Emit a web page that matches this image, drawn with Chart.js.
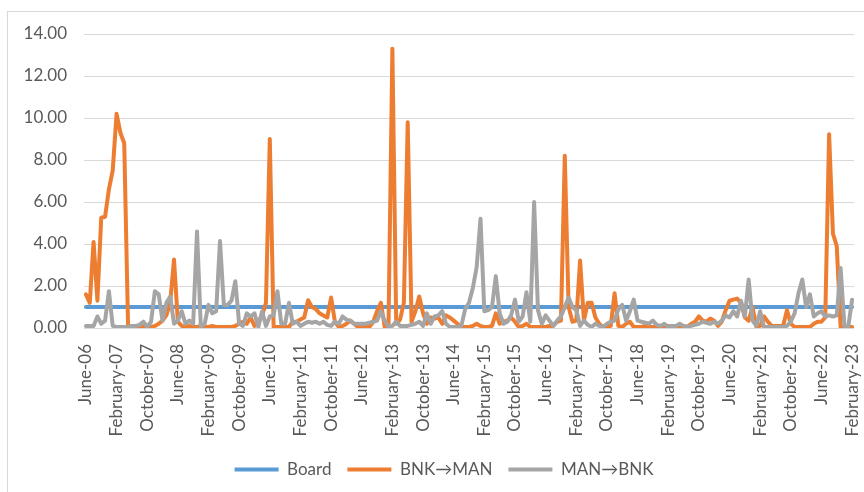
<!DOCTYPE html>
<html>
<head>
<meta charset="utf-8">
<script src="https://cdn.jsdelivr.net/npm/chart.js@4.4.0/dist/chart.umd.min.js"></script>
<style>
  html, body { margin: 0; padding: 0; background: #fff; }
  #wrap { position: relative; width: 864px; height: 492px; overflow: hidden; }
  #frame { position: absolute; left: 7px; top: 11px; width: 900px; height: 520px;
           border-left: 1px solid #d9d9d9; border-top: 1px solid #d9d9d9; }
  canvas { position: absolute; left: 0; top: 0; }
</style>
</head>
<body>
<div id="wrap">
  <div id="frame"></div>
  <canvas id="myChart" width="864" height="492"></canvas>
</div>
<script>
// monthly, June-06 .. February-23
var monthNames = ["January", "February", "March", "April", "May", "June", "July",
  "August", "September", "October", "November", "December"];
var firstYear = 2006, firstMonth = 5, monthCount = 201;
var categories = [];
for (var k = 0; k < monthCount; k++) {
  var m = (firstMonth + k) % 12;
  var y = firstYear + Math.floor((firstMonth + k) / 12);
  categories.push(monthNames[m] + "-" + String(y % 100).padStart(2, "0"));
}

var boardLevel = 1.0;

var bnkToMan = [
  1.6, 1.2, 4.1, 1.3, 5.25, 5.3, 6.6, 7.5, 10.2, 9.3,
  8.8, 0.1, 0.05, 0.05, 0.1, 0.05, 0.1, 0.05, 0.1, 0.2,
  0.35, 0.6, 1.2, 3.26, 0.3, 0.1, 0.05, 0.1, 0.05, 0.05,
  0.1, 0.05, 0.05, 0.1, 0.05, 0.05, 0.05, 0.05, 0.05, 0.1,
  0.2, 0.3, 0.2, 0.5, 0.1, 0.3, 0.6, 1.2, 9.0, 0.05,
  0.05, 0.05, 0.05, 0.05, 0.3, 0.3, 0.4, 0.5, 1.32, 1.0,
  0.9, 0.7, 0.6, 0.5, 1.45, 0.3, 0.05, 0.1, 0.2, 0.35,
  0.2, 0.05, 0.05, 0.05, 0.05, 0.3, 0.8, 1.2, 0.05, 0.2,
  13.3, 0.2, 0.4, 1.2, 9.8, 0.3, 0.8, 1.5, 0.7, 0.2,
  0.5, 0.45, 0.5, 0.2, 0.6, 0.5, 0.35, 0.2, 0.05, 0.05,
  0.05, 0.1, 0.2, 0.1, 0.05, 0.05, 0.1, 0.7, 0.2, 0.3,
  0.35, 0.5, 0.3, 0.05, 0.1, 0.2, 0.05, 0.05, 0.05, 0.05,
  0.05, 0.1, 0.1, 0.3, 0.35, 8.2, 1.0, 0.3, 0.35, 3.22,
  0.35, 1.2, 1.2, 0.5, 0.2, 0.05, 0.05, 0.1, 1.65, 0.1,
  0.05, 0.2, 0.3, 0.05, 0.05, 0.05, 0.1, 0.05, 0.05, 0.1,
  0.05, 0.05, 0.1, 0.05, 0.05, 0.05, 0.1, 0.05, 0.2, 0.3,
  0.55, 0.35, 0.3, 0.45, 0.35, 0.1, 0.3, 0.85, 1.3, 1.35,
  1.4, 1.2, 0.5, 0.35, 1.0, 0.05, 0.1, 0.55, 0.3, 0.1,
  0.1, 0.1, 0.1, 0.85, 0.2, 0.05, 0.05, 0.05, 0.05, 0.05,
  0.2, 0.3, 0.3, 0.5, 9.23, 4.5, 3.9, 0.05, 0.05, 0.05,
  0.05
];

var manToBnk = [
  0.1, 0.1, 0.1, 0.55, 0.2, 0.35, 1.75, 0.1, 0.05, 0.05,
  0.05, 0.05, 0.1, 0.1, 0.15, 0.3, 0.05, 0.3, 1.75, 1.6,
  0.35, 1.2, 1.5, 0.2, 0.35, 0.8, 0.2, 0.35, 0.2, 4.6,
  0.05, 0.2, 1.1, 0.7, 0.8, 4.14, 1.1, 1.1, 1.3, 2.23,
  0.2, 0.1, 0.7, 0.55, 0.7, 0.05, 0.8, 0.1, 0.55, 0.6,
  1.75, 0.2, 0.2, 1.2, 0.2, 0.3, 0.1, 0.2, 0.3, 0.25,
  0.3, 0.2, 0.3, 0.15, 0.1, 0.3, 0.2, 0.55, 0.4, 0.35,
  0.2, 0.2, 0.2, 0.2, 0.25, 0.3, 0.35, 0.8, 0.35, 0.05,
  0.1, 0.3, 0.1, 0.1, 0.1, 0.15, 0.2, 0.3, 0.1, 0.7,
  0.2, 0.55, 0.6, 0.8, 0.2, 0.05, 0.05, 0.05, 0.1, 0.9,
  1.2, 1.9, 2.9, 5.2, 0.8, 0.85, 1.0, 2.47, 0.7, 0.2,
  0.3, 0.6, 1.35, 0.3, 0.55, 1.7, 0.3, 6.0, 0.85, 0.2,
  0.6, 0.35, 0.1, 0.35, 0.55, 1.0, 1.45, 1.0, 0.85, 0.1,
  0.35, 0.15, 0.05, 0.2, 0.1, 0.05, 0.2, 0.3, 0.35, 0.9,
  1.1, 0.35, 0.8, 1.35, 0.35, 0.3, 0.25, 0.2, 0.35, 0.15,
  0.1, 0.2, 0.05, 0.1, 0.1, 0.2, 0.1, 0.05, 0.1, 0.15,
  0.2, 0.3, 0.25, 0.2, 0.3, 0.2, 0.35, 0.6, 0.5, 0.8,
  0.55, 1.3, 0.55, 2.31, 0.35, 0.1, 0.8, 0.05, 0.05, 0.05,
  0.05, 0.05, 0.05, 0.1, 0.3, 0.7, 1.65, 2.31, 1.0, 1.6,
  0.55, 0.7, 0.8, 0.55, 0.6, 0.55, 0.6, 2.86, 0.1, 0.05,
  1.35
];

var labelEvery = 8;
var textColor = "#595959";
var font = { family: "Lato", size: 17 };

function lineSet(label, data, color, order) {
  return {
    label: label,
    data: data,
    borderColor: color,
    backgroundColor: color,
    borderWidth: 4,
    pointRadius: 0,
    pointHoverRadius: 0,
    tension: 0,
    borderJoinStyle: "round",
    borderCapStyle: "round",
    order: order
  };
}

// legend sits a bit right of centre in the original
var legendShift = {
  id: "legendShift",
  afterLayout: function (chart) { chart.legend.left += 34; }
};

var ctx = document.getElementById("myChart").getContext("2d");
var myChart = new Chart(ctx, {
  type: "line",
  data: {
    labels: categories,
    datasets: [
      lineSet("Board", categories.map(function () { return boardLevel; }), "#5b9bd5", 3),
      lineSet("BNK\u2192MAN", bnkToMan, "#ed7d31", 2),
      lineSet("MAN\u2192BNK", manToBnk, "#a5a5a5", 1)
    ]
  },
  plugins: [legendShift],
  options: {
    responsive: false,
    devicePixelRatio: 1,
    animation: false,
    layout: { padding: { top: 34, right: 10, bottom: 4, left: 0 } },
    plugins: {
      tooltip: { enabled: false },
      legend: {
        position: "bottom",
        labels: {
          usePointStyle: true,
          pointStyle: "line",
          pointStyleWidth: 44,
          color: textColor,
          font: font,
          padding: 16,
          sort: function (a, b) { return a.datasetIndex - b.datasetIndex; }
        }
      }
    },
    scales: {
      x: {
        offset: true,
        grid: { display: false },
        border: { display: false },
        ticks: {
          autoSkip: false,
          maxRotation: 90,
          minRotation: 90,
          padding: 8,
          color: textColor,
          font: font,
          callback: function (v, i) {
            return i % labelEvery === 0 ? categories[i] : null;
          }
        },
        afterFit: function (s) {
          s.height = 117;
          s.paddingLeft = 0;
          s.paddingRight = 0;
        }
      },
      y: {
        min: 0,
        max: 14,
        grid: { color: "#d9d9d9", lineWidth: 1, drawTicks: false },
        border: { display: false },
        ticks: {
          stepSize: 2,
          padding: 17,
          color: textColor,
          font: font,
          callback: function (v) { return v.toFixed(2); }
        },
        afterFit: function (s) { s.width = 84; }
      }
    }
  }
});
</script>
</body>
</html>
